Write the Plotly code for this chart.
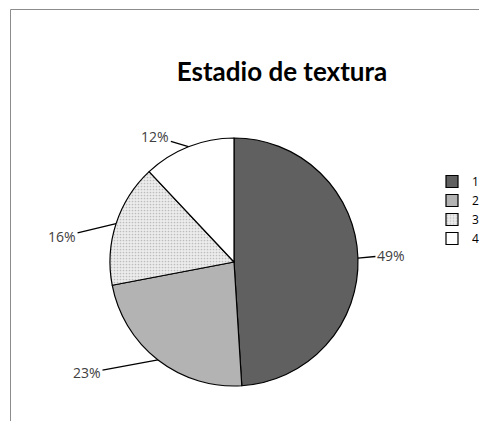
import math
import plotly.graph_objects as go

categories = ["1", "2", "3", "4"]
values = [49, 23, 16, 12]
label_texts = ["49%", "23%", "16%", "12%"]

colors = ["#606060", "#b3b3b3", "#ececec", "#ffffff"]
label_offsets = [(33, -3), (-71, 13), (-54, 13), (-33, -10)]

W, H = 487, 421
OX, OY = 8, 8  # page body margin
cx, cy, r = 234 - OX, 262 - OY, 124

fig = go.Figure()
fig.add_trace(go.Pie(
    labels=categories,
    values=values,
    sort=False,
    direction="clockwise",
    rotation=0,
    textinfo="none",
    hoverinfo="label+percent",
    marker=dict(
        colors=colors,
        line=dict(color="#000000", width=1.2),
        pattern=dict(shape=["", "", ".", ""], fgcolor="#bdbdbd", bgcolor=colors,
                     size=3, solidity=0.25),
    ),
    domain=dict(x=[(cx - r) / W, (cx + r) / W], y=[(H - cy - r) / H, (H - cy + r) / H]),
    showlegend=True,
))

annotations = []
total = sum(values)
cum = 0
for i, v in enumerate(values):
    mid = (cum + v / 2) / total
    cum += v
    theta = math.radians(90 - 360 * mid)
    px = cx + r * math.cos(theta)
    py = cy - r * math.sin(theta)
    dx, dy = label_offsets[i]
    annotations.append(dict(
        x=px / W, y=1 - py / H, xref="paper", yref="paper",
        text=label_texts[i], showarrow=True, arrowhead=0, arrowwidth=1.3,
        arrowcolor="#000000", ax=dx, ay=dy, standoff=0,
        font=dict(family="Open Sans, sans-serif", size=14, color="#404040"),
    ))

fig.update_layout(
    width=W, height=H,
    margin=dict(l=0, r=0, t=0, b=0, autoexpand=False),
    paper_bgcolor="white",
    title=dict(text="<b>Estadio de textura</b>", x=(282 - OX) / W, xanchor="center", y=1 - (72 - OY) / H,
               yanchor="middle", font=dict(family="Lato, sans-serif", size=26, color="#000000")),
    legend=dict(x=(452 - OX - 20) / W, y=1 - (167 - OY) / H, xanchor="left", yanchor="top",
                font=dict(family="Open Sans, sans-serif", size=12, color="#000000"),
                tracegroupgap=0, itemwidth=30, bgcolor="rgba(0,0,0,0)"),
    annotations=annotations,
    shapes=[
        dict(type="line", xref="paper", yref="paper", x0=(10.5 - OX) / W, x1=(10.5 - OX) / W, y0=0,
             y1=1 - (9.5 - OY) / H, line=dict(color="#8c8c8c", width=1)),
        dict(type="line", xref="paper", yref="paper", x0=(10.5 - OX) / W, x1=1, y0=1 - (9.5 - OY) / H,
             y1=1 - (9.5 - OY) / H, line=dict(color="#8c8c8c", width=1)),
    ],
)

fig.write_html("out.html")
